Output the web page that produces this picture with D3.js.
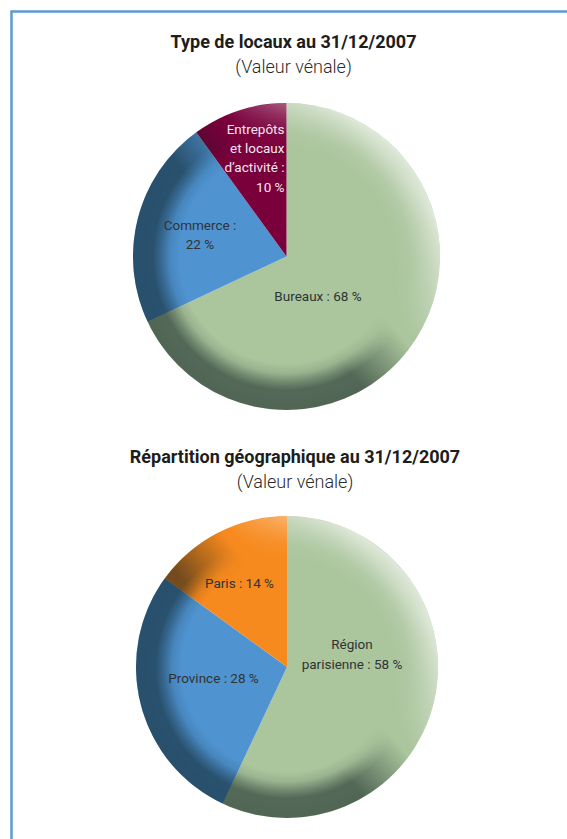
<!DOCTYPE html>
<html>
  <head>
    <meta charset="utf-8">
    <title>Patrimoine au 31/12/2007</title>
    <script src="https://cdn.jsdelivr.net/npm/d3@7"></script>
    <style>
      html, body { margin: 0; padding: 0; background: #fff; overflow: hidden; }
      svg { display: block; }
      text { font-family: Roboto, sans-serif; text-anchor: middle; }
      .title { font-size: 18px; font-weight: 700; fill: #1d1d1b; }
      .sub { font-size: 18px; font-weight: 300; fill: #2b2b2b; }
      .lab { font-size: 13.5px; fill: #2f3434; }
    </style>
  </head>
  <body>
    <svg></svg>
    <script>
    var typeCats = ["Bureaux", "Commerce", "Entrepôts"];
    var typeValues = [68, 22, 10];
    var typeColors = ["#abc59d", "#4f93d0", "#7a003c"];
    var typeLabels = [["Bureaux : 68 %"], ["Commerce :", "22 %"], ["Entrepôts", "et locaux", "d’activité :", "10 %"]];

    var geoCats = ["Région parisienne", "Province", "Paris"];
    var geoValues = [57, 28, 15];
    var geoColors = ["#abc59d", "#4f93d0", "#f78a1e"];
    var geoLabels = [["Région", "parisienne : 58 %"], ["Province : 28 %"], ["Paris : 14 %"]];

    var width = 567, height = 839;
    var svg = d3.select("svg").attr("width", width).attr("height", height);
    var defs = svg.append("defs");

    function addStops(grad, stops) {
      stops.forEach(function(s) {
        grad.append("stop").attr("offset", s[0]).attr("stop-color", s[1]).attr("stop-opacity", s[2]);
      });
    }

    // radial edges of the bevel
    addStops(defs.append("radialGradient").attr("id", "darkEdge"), [
      [0.7, "#0a1a1c", 0], [0.76, "#0a1a1c", 0.1], [0.82, "#0a1a1c", 0.36], [0.87, "#0a1a1c", 0.54], [1, "#0a1a1c", 0.56]
    ]);
    addStops(defs.append("radialGradient").attr("id", "lightEdge"), [
      [0.68, "#fff", 0], [0.8, "#fff", 0.12], [0.9, "#fff", 0.38], [1, "#fff", 0.62]
    ]);

    // frame, open on the right and the bottom
    svg.append("path")
      .attr("d", d3.line()([[width, 11.5], [11.5, 11.5], [11.5, height]]))
      .attr("fill", "none").attr("stroke", "#5b9bd5").attr("stroke-width", 2.5);

    function addSideMask(id, r, stops) {
      var grad = defs.append("linearGradient").attr("id", id + "Grad")
        .attr("gradientUnits", "userSpaceOnUse")
        .attr("x1", -0.77 * r).attr("y1", 0.64 * r)
        .attr("x2", 0.77 * r).attr("y2", -0.64 * r);
      addStops(grad, stops);
      defs.append("mask").attr("id", id)
        .attr("maskUnits", "userSpaceOnUse")
        .attr("x", -r).attr("y", -r).attr("width", 2 * r).attr("height", 2 * r)
        .append("rect")
        .attr("x", -r).attr("y", -r).attr("width", 2 * r).attr("height", 2 * r)
        .attr("fill", "url(#" + id + "Grad)");
    }

    function drawPie(opt) {
      var g = svg.append("g").attr("transform", "translate(" + opt.cx + "," + opt.cy + ")");
      var r = opt.r;
      var pie = d3.pie().sort(null)(opt.values);
      var arc = d3.arc().innerRadius(0).outerRadius(r);

      g.selectAll("path.slice").data(pie).enter().append("path")
        .attr("class", "slice")
        .attr("d", arc)
        .attr("fill", function(d, i) { return opt.colors[i]; });

      // bevel: dark towards the lower left, light towards the upper right
      addSideMask(opt.id + "Dark", r, [[0.42, "#fff", 1], [0.62, "#fff", 0]]);
      addSideMask(opt.id + "Light", r, [[0.64, "#fff", 0], [0.95, "#fff", 1]]);
      g.append("circle").attr("r", r).attr("fill", "url(#darkEdge)")
        .attr("mask", "url(#" + opt.id + "Dark)");
      g.append("circle").attr("r", r).attr("fill", "url(#lightEdge)")
        .attr("mask", "url(#" + opt.id + "Light)");

      svg.append("text").attr("class", "title").attr("x", opt.titleX).attr("y", opt.titleY).text(opt.title);
      svg.append("text").attr("class", "sub").attr("x", opt.titleX).attr("y", opt.titleY + 25).text("(Valeur vénale)");

      opt.labels.forEach(function(lines, i) {
        var p = opt.labelPos[i];
        var t = svg.append("text").attr("class", "lab")
          .attr("x", p[0]).attr("y", p[1])
          .style("text-anchor", p[2] || "middle")
          .style("fill", p[3] || null);
        lines.forEach(function(l, k) {
          t.append("tspan").attr("x", p[0]).attr("dy", k ? p[4] || 19 : 0).text(l);
        });
      });
    }

    drawPie({
      id: "type", cx: 286.5, cy: 256.5, r: 153.5, titleX: 293.5, titleY: 48,
      title: "Type de locaux au 31/12/2007",
      values: typeValues, colors: typeColors, labels: typeLabels,
      labelPos: [[318, 301], [200, 230, "middle", null, 19], [284.5, 134, "end", "#f4e6ec", 19.2]]
    });
    drawPie({
      id: "geo", cx: 287, cy: 667, r: 151, titleX: 295, titleY: 463,
      title: "Répartition géographique au 31/12/2007",
      values: geoValues, colors: geoColors, labels: geoLabels,
      labelPos: [[352, 649, "middle", null, 20], [213.5, 683], [239.5, 588]]
    });
    </script>
  </body>
</html>
